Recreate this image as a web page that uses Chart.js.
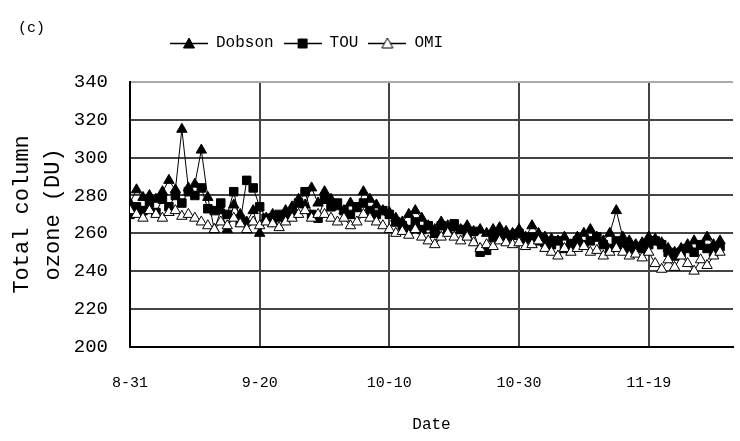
<!DOCTYPE html>
<html>
<head>
<meta charset="utf-8">
<script src="https://cdn.jsdelivr.net/npm/chart.js@4/dist/chart.umd.min.js"></script>
<style>
  html, body { margin: 0; padding: 0; background: #fff; }
  #wrap { width: 740px; height: 441px; }
</style>
</head>
<body>
<div id="wrap"><canvas id="ozoneChart" width="740" height="441"></canvas></div>
<script>
// daily total column ozone (DU), starting 8-31
const dobson = [
  276, 283, 279, 280, 278, 282, 288, 283, 315, 284,
  286, 304, 279, 262, 272, 262, 275, 270, 266, 272,
  260, 268, 270, 268, 272, 274, 278, 275, 284, 276,
  282, 278, 274, 272, 276, 273, 282, 278, 275, 272,
  271, 268, 266, 270, 272, 268, 264, 262, 266, 264,
  263, 262, 264, 261, 262, 260, 262, 263, 261, 260,
  262, 258, 264, 260, 258, 257, 256, 258, 254, 258,
  260, 262, 258, 256, 260, 272, 258, 256, 254, 255,
  258, 257, 255, 252, 250, 252, 254, 256, 253, 258,
  254, 256
];
const tou = [
  270, 274, 272, 276, 271, 278, 274, 280, 276, 282,
  280, 284, 273, 272, 276, 270, 282, 266, 288, 284,
  274, 268, 266, 270, 268, 270, 276, 282, 270, 268,
  278, 274, 276, 272, 270, 274, 276, 272, 270, 272,
  270, 266, 264, 262, 266, 262, 264, 260, 264, 262,
  265, 262, 260, 261, 250, 251, 258, 260, 258, 259,
  260, 257, 258, 256, 255, 254, 256, 252, 254, 256,
  254, 256, 258, 254, 252, 256, 254, 252, 253, 252,
  254, 256, 254, 250, 248, 250, 252, 250, 254, 252,
  250, 253
];
const omi = [
  272, 270, 268, 272, 270, 268, 271, 272, 269, 270,
  268, 266, 264, 262, 266, 264, 268, 265, 262, 266,
  264, 266, 265, 263, 266, 268, 270, 272, 268, 270,
  270, 268, 266, 268, 264, 266, 270, 268, 266, 264,
  262, 260, 261, 259, 262, 258, 256, 254, 258, 260,
  258, 256, 258, 255, 252, 254, 253, 256, 255, 254,
  255, 253, 254, 256, 252, 250, 248, 252, 250, 252,
  253, 250, 251, 248, 250, 252, 250, 248, 249, 247,
  250, 244, 241, 246, 242, 248, 244, 240, 246, 243,
  248, 250
];

// day offsets from 8-31 and their tick labels
const tickDays = [0, 20, 40, 60, 80];
const tickLabels = ["8-31", "9-20", "10-10", "10-30", "11-19"];
const yTicks = [200, 220, 240, 260, 280, 300, 320, 340];

const FONT = "'Liberation Mono', 'DejaVu Sans Mono', monospace";

function toPoints(values) {
  return values.map((v, i) => ({ x: i, y: v }));
}

// small legend glyph: line with marker in the middle
function legendGlyph(style) {
  const c = document.createElement("canvas");
  c.width = 38; c.height = 14;
  const g = c.getContext("2d");
  g.strokeStyle = "#000";
  g.lineWidth = 1.5;
  g.beginPath(); g.moveTo(0, 7.5); g.lineTo(38, 7.5); g.stroke();
  g.fillStyle = style === "open" ? "#fff" : "#000";
  g.lineWidth = 1;
  g.beginPath();
  if (style === "rect") {
    g.rect(14.5, 3, 9, 9);
  } else {
    g.moveTo(19, 2); g.lineTo(24.5, 12); g.lineTo(13.5, 12); g.closePath();
  }
  g.fill(); g.stroke();
  return c;
}

const glyphs = [legendGlyph("fill"), legendGlyph("rect"), legendGlyph("open")];

const extraText = {
  id: "extraText",
  beforeLayout(chart) {
    // leave a gap under the legend row
    const lg = chart.legend;
    if (lg && !lg._gapAdded) {
      const fit = lg.fit;
      lg.fit = function () {
        fit.call(this);
        this.height += 21;
      };
      lg._gapAdded = true;
    }
  },
  beforeDraw(chart) {
    chart.legend.left = 160;
  },
  afterDraw(chart) {
    const ctx = chart.ctx;
    ctx.save();
    ctx.fillStyle = "#000";
    ctx.font = "15px " + FONT;
    ctx.textBaseline = "middle";
    ctx.fillText("(c)", 18, 28);
    ctx.restore();
  }
};

new Chart(document.getElementById("ozoneChart"), {
  type: "line",
  data: {
    datasets: [{
      label: "Dobson",
      data: toPoints(dobson),
      borderColor: "#000",
      borderWidth: 1,
      pointStyle: "triangle",
      pointRadius: 6,
      pointBackgroundColor: "#000",
      pointBorderColor: "#000",
      pointBorderWidth: 1,
      tension: 0,
      order: 3
    }, {
      label: "TOU",
      data: toPoints(tou),
      borderColor: "#000",
      borderWidth: 1,
      pointStyle: "rect",
      pointRadius: 6,
      pointBackgroundColor: "#000",
      pointBorderColor: "#000",
      pointBorderWidth: 1,
      tension: 0,
      order: 2
    }, {
      label: "OMI",
      data: toPoints(omi),
      borderColor: "#000",
      borderWidth: 1,
      pointStyle: "triangle",
      pointRadius: 6,
      pointBackgroundColor: "#fff",
      pointBorderColor: "#000",
      pointBorderWidth: 1,
      tension: 0,
      order: 1
    }]
  },
  options: {
    responsive: false,
    animation: false,
    layout: { padding: { top: 25, left: 0, right: 2, bottom: 7 } },
    plugins: {
      tooltip: { enabled: false },
      legend: {
        position: "top",
        align: "start",
        labels: {
          usePointStyle: true,
          pointStyleWidth: 38,
          padding: 10,
          color: "#000",
          font: { family: FONT, size: 16 },
          generateLabels(chart) {
            return chart.data.datasets.map((ds, i) => ({
              text: ds.label,
              pointStyle: glyphs[i],
              fillStyle: "#000",
              strokeStyle: "#000",
              lineWidth: 0,
              datasetIndex: i,
              hidden: false
            }));
          }
        }
      }
    },
    scales: {
      x: {
        type: "linear",
        min: 0,
        max: 93,
        afterBuildTicks(axis) {
          axis.ticks = tickDays.map(v => ({ value: v }));
        },
        ticks: {
          color: "#000",
          font: { family: FONT, size: 15 },
          padding: 27,
          maxRotation: 0,
          callback(value) {
            const i = tickDays.indexOf(value);
            return i >= 0 ? tickLabels[i] : "";
          }
        },
        grid: { color: "#444", lineWidth: 2, drawTicks: false },
        border: { color: "#000", width: 2 },
        title: {
          display: true,
          text: "Date",
          color: "#000",
          font: { family: FONT, size: 16 },
          padding: { top: -4, bottom: 0 }
        }
      },
      y: {
        min: 200,
        max: 340,
        afterBuildTicks(axis) {
          axis.ticks = yTicks.map(v => ({ value: v }));
        },
        afterFit(axis) {
          axis.width = 130;
        },
        ticks: {
          color: "#000",
          font: { family: FONT, size: 19 },
          padding: 22
        },
        grid: {
          color: c => (c.tick && c.tick.value === 340 ? "#aaa" : "#444"),
          lineWidth: 2,
          drawTicks: false
        },
        border: { color: "#000", width: 2 },
        title: {
          display: true,
          text: ["Total column", "ozone (DU)"],
          color: "#000",
          font: { family: FONT, size: 22, lineHeight: 1.4 },
          padding: { top: 7, bottom: 0 }
        }
      }
    }
  },
  plugins: [extraText]
});
</script>
</body>
</html>
